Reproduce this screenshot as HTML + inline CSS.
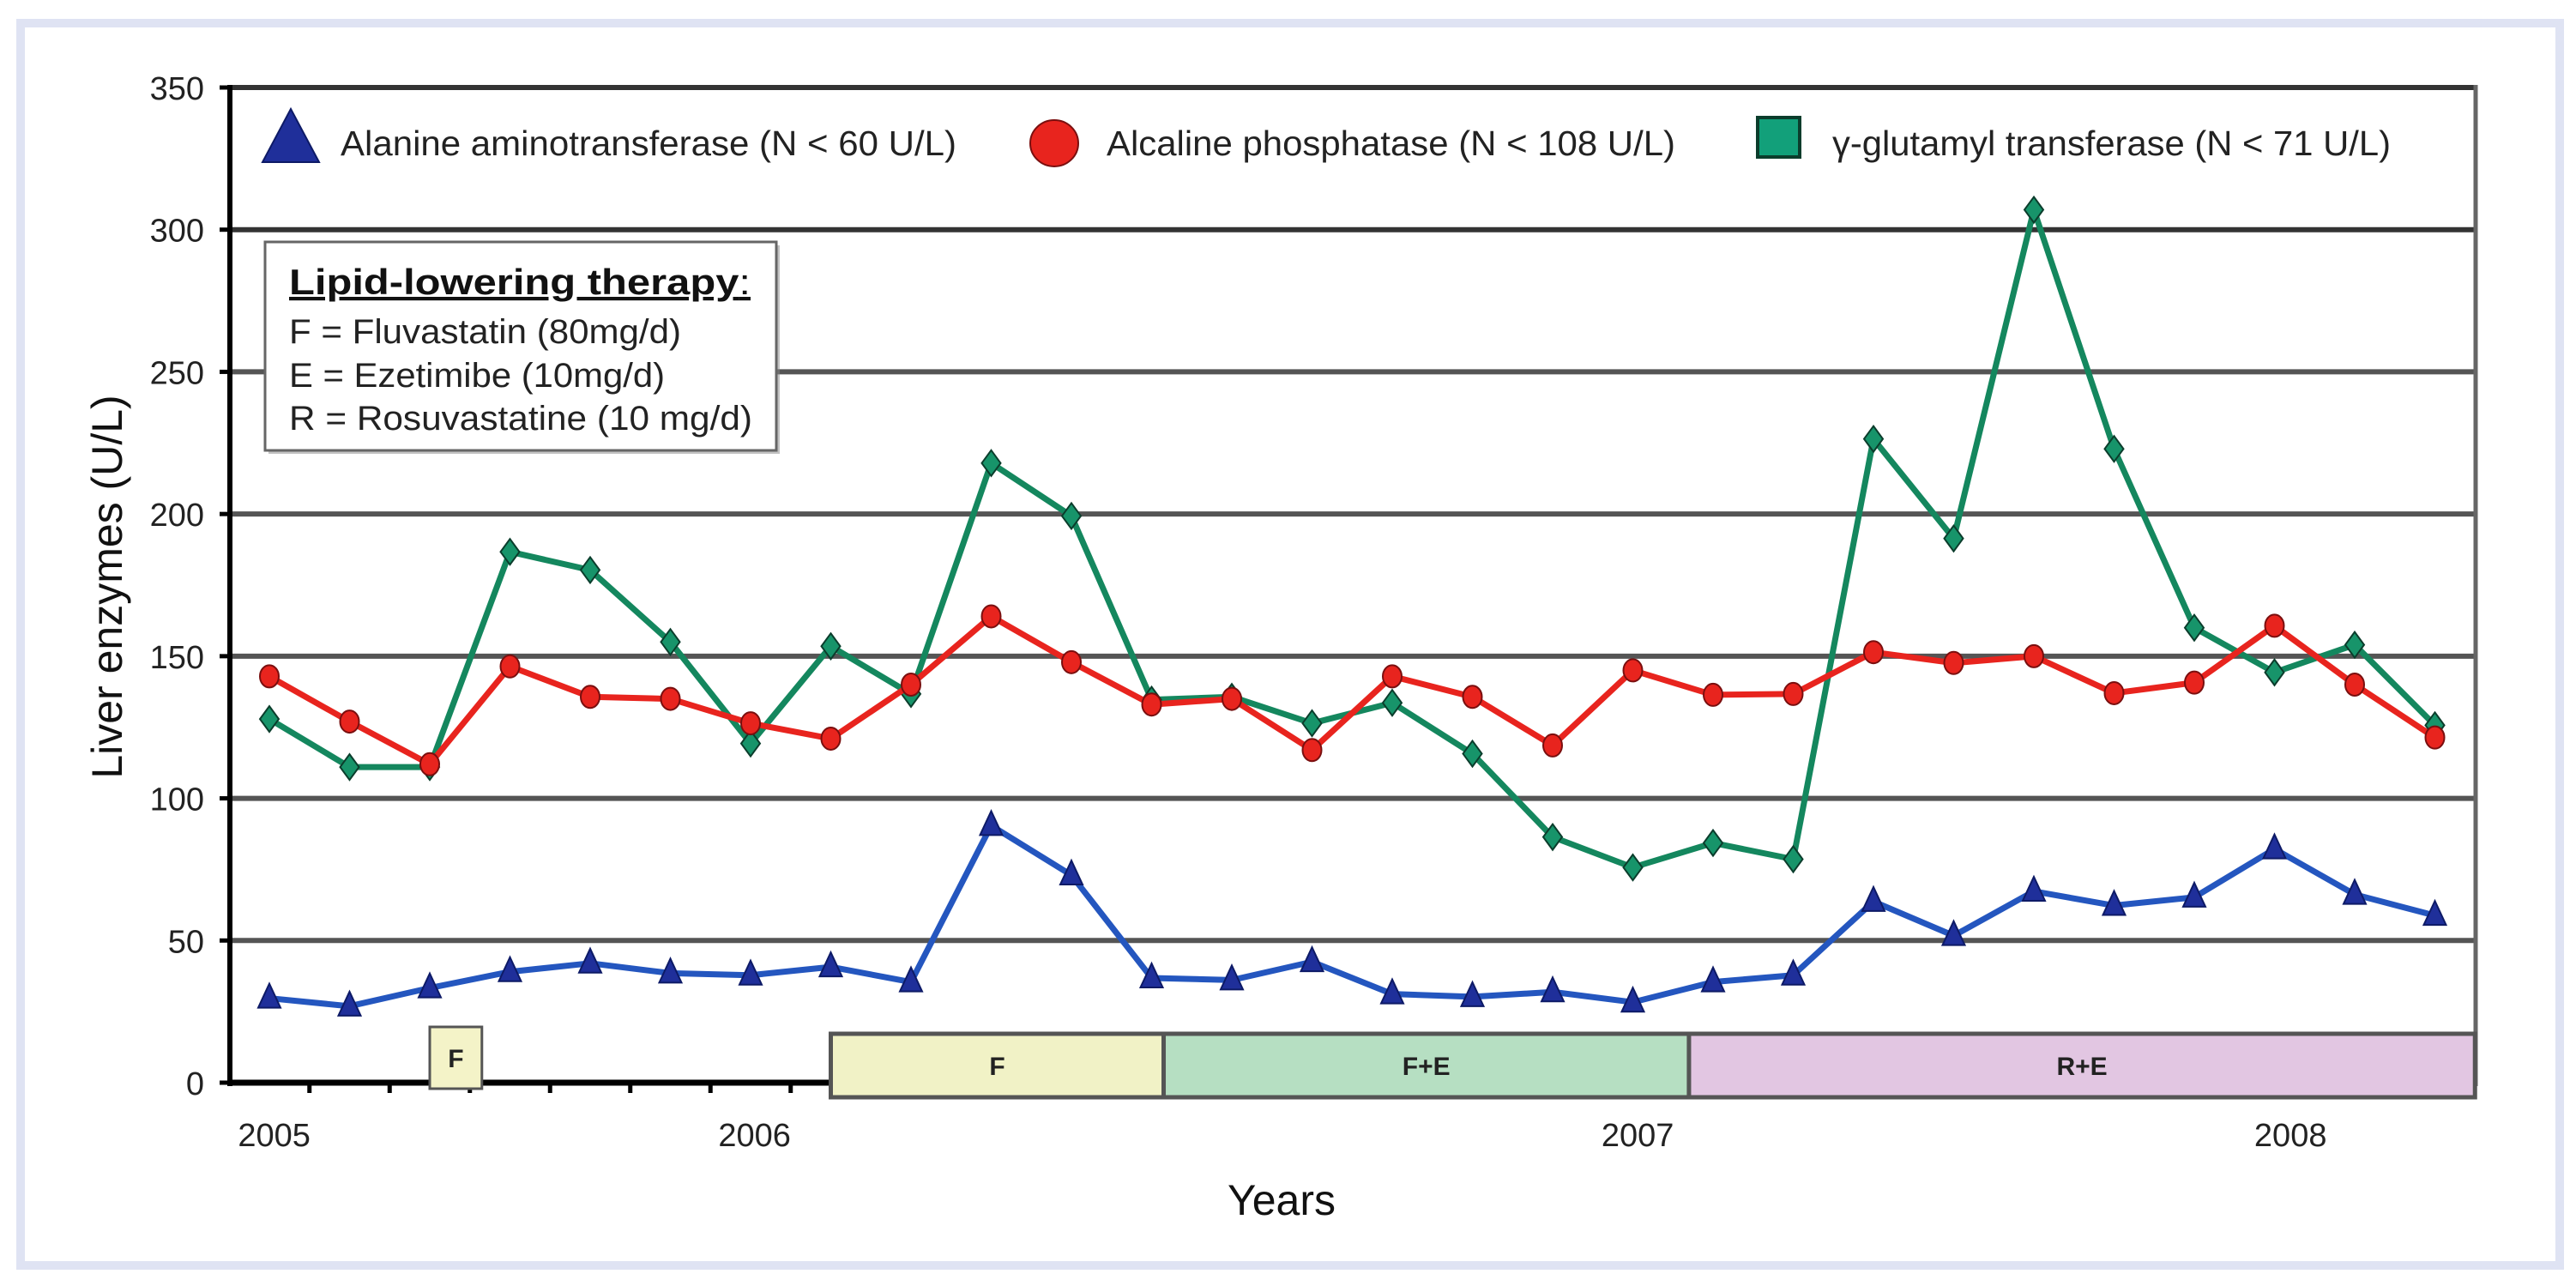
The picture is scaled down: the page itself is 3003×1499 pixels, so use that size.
<!DOCTYPE html>
<html><head><meta charset="utf-8"><style>
html,body{margin:0;padding:0;background:#fff;}
svg text{font-family:"Liberation Sans",Arial,sans-serif;}
</style></head><body>
<svg id="chart" width="3003" height="1494" viewBox="0 0 3003 1494" xmlns="http://www.w3.org/2000/svg">
<rect x="24" y="27" width="2960" height="1448" fill="#fff" stroke="#dfe3f3" stroke-width="10"/>
<g id="grid"></g>
<g id="axes"></g>
<g id="therapy"></g>
<g id="series"></g>
<g>
  <polygon points="339,127 306,189 372,189" fill="#1f2f9a" stroke="#0d1a66" stroke-width="2"/>
  <text x="397" y="181" font-size="41" textLength="718" lengthAdjust="spacingAndGlyphs" fill="#222">Alanine aminotransferase (N &lt; 60 U/L)</text>
  <ellipse cx="1229" cy="167" rx="28" ry="27" fill="#e8241e" stroke="#7a0f0f" stroke-width="2"/>
  <text x="1290" y="181" font-size="41" textLength="663" lengthAdjust="spacingAndGlyphs" fill="#222">Alcaline phosphatase (N &lt; 108 U/L)</text>
  <rect x="2049" y="137" width="49" height="46" fill="#12a07a" stroke="#0b3d2c" stroke-width="4"/>
  <text x="2136" y="181" font-size="41" textLength="651" lengthAdjust="spacingAndGlyphs" fill="#222">γ-glutamyl transferase (N &lt; 71 U/L)</text>
</g>
<g>
  <rect x="313" y="286" width="596" height="243" fill="#888" opacity="0.5"/>
  <rect x="309" y="282" width="596" height="243" fill="#fff" stroke="#666" stroke-width="3"/>
  <text x="337" y="343" font-size="42" font-weight="bold" text-decoration="underline" fill="#111" textLength="538" lengthAdjust="spacingAndGlyphs">Lipid-lowering therapy<tspan font-weight="normal" text-decoration="none">:</tspan></text>
  <text x="337" y="400" font-size="40" fill="#222" textLength="457" lengthAdjust="spacingAndGlyphs">F = Fluvastatin (80mg/d)</text>
  <text x="337" y="451" font-size="40" fill="#222" textLength="438" lengthAdjust="spacingAndGlyphs">E = Ezetimibe (10mg/d)</text>
  <text x="337" y="501" font-size="40" fill="#222" textLength="540" lengthAdjust="spacingAndGlyphs">R = Rosuvastatine (10 mg/d)</text>
</g>
<text transform="translate(142,684) rotate(-90)" text-anchor="middle" font-size="50" fill="#111">Liver enzymes (U/L)</text>
<text x="1494" y="1416" text-anchor="middle" font-size="50" fill="#111">Years</text>
</svg>
<script>
const altValues=[29.7,26.9,33.3,39,42,38.5,37.8,40.7,35.4,90.4,73,36.8,36.1,42.5,31.2,30.2,31.9,28.3,35.4,37.8,63.7,51.7,67.3,62.3,65.2,82.2,66.2,58.8];
const alpValues=[142.9,127,112,146.4,135.7,135,126.4,121,140,164,147.9,133,135,117,142.9,135.7,118.6,145,136.4,136.7,151.4,147.6,150,137,140.7,160.7,140,121.4];
const ggtValues=[127.9,111,111,186.7,180.3,155,119.3,153.5,136.7,217.9,199.3,134.7,135.7,126.4,133.6,115.7,86.4,75.7,84.3,78.6,226.4,191.4,307,222.9,160,144.3,154,125.7];
const yTicks=[0,50,100,150,200,250,300,350];
const yearLabels=["2005","2006","2007","2008"];
const yearPos=[0.06,6.05,17.06,25.2];
const therapyLabels=["F","F","F+E","R+E"];
const therapyStart=[2.0,7.0,11.15,17.7];
const therapyEnd=[2.65,11.15,17.7,27.5];
const therapyColors=["#f4f3c8","#f1f2c6","#b6dfc2","#e2c6e2"];

const NS="http://www.w3.org/2000/svg";
const X0=268,X1=2886,Y0=1262,Y350=102;
const xs=i=>314+i*93.5;
const ys=v=>Y0-(v/350)*(Y0-Y350);
function mk(tag,attrs,parent){const e=document.createElementNS(NS,tag);for(const k in attrs)e.setAttribute(k,attrs[k]);parent.appendChild(e);return e;}
const grid=document.getElementById('grid'),axes=document.getElementById('axes'),ser=document.getElementById('series'),ther=document.getElementById('therapy');

yTicks.forEach(t=>{
  if(t>0){const l=mk('line',{x1:X0,x2:X1,y1:ys(t),y2:ys(t),stroke:t>=300?'#333':'#555','stroke-width':6},grid);
  
  }
  const tk=mk('line',{x1:X0-12,x2:X0,y1:ys(t),y2:ys(t),stroke:'#000','stroke-width':5},axes);
  
  
  const tx=mk('text',{x:238,y:ys(t)+14,'text-anchor':'end','font-size':38,fill:'#222'},axes);
  tx.textContent=t;
  
  
});
const rb=mk('line',{x1:X1,x2:X1,y1:Y350-3,y2:Y0+4,stroke:'#666','stroke-width':5},grid);


const xa=mk('line',{x1:X0,x2:X1,y1:Y0,y2:Y0,stroke:'#000','stroke-width':7},axes);


const ya=mk('line',{x1:X0,x2:X0,y1:Y350-3,y2:Y0+4,stroke:'#000','stroke-width':6},axes);


for(let i=0;i<altValues.length-1;i++){
  const t=mk('line',{x1:xs(i+0.5),x2:xs(i+0.5),y1:Y0,y2:Y0+12,stroke:'#000','stroke-width':5},axes);
  
  
}
yearLabels.forEach((y,i)=>{
  const t=mk('text',{x:xs(yearPos[i]),y:1336,'text-anchor':'middle','font-size':38,fill:'#222'},axes);
  t.textContent=y;
  
  
});
therapyLabels.forEach((lab,i)=>{
  const small=i===0;
  const x1=xs(therapyStart[i]),x2=xs(therapyEnd[i]);
  const top=small?1197:1205,bot=small?1269:1279;
  const r=mk('rect',{x:x1,y:top,width:x2-x1,height:bot-top,fill:therapyColors[i],stroke:'#555','stroke-width':small?3:5},ther);
  
  
  const t=mk('text',{x:(x1+x2)/2,y:(top+bot)/2+11,'text-anchor':'middle','font-size':30,'font-weight':'bold',fill:'#222'},ther);
  t.textContent=lab;
  
  
});
function drawSeries(vals,color,mcolor,shape,name){
  const g=mk('g',{},ser);
  
  
  const pts=vals.map((v,i)=>xs(i)+','+ys(v)).join(' ');
  const pl=mk('polyline',{points:pts,fill:'none',stroke:color,'stroke-width':7,'stroke-linejoin':'round'},g);
  
  
  vals.forEach((v,i)=>{
    const x=xs(i),y=ys(v);let m;
    if(shape==='tri')m=mk('polygon',{points:`${x},${y-17} ${x-13},${y+11} ${x+13},${y+11}`,fill:mcolor,stroke:'#0d1a66','stroke-width':2},g);
    else if(shape==='circ')m=mk('ellipse',{cx:x,cy:y,rx:11,ry:13,fill:mcolor,stroke:'#7a0f0f','stroke-width':2},g);
    else m=mk('polygon',{points:`${x},${y-15} ${x+11},${y} ${x},${y+15} ${x-11},${y}`,fill:mcolor,stroke:'#0b3d2c','stroke-width':2},g);
    
    
  });
}
drawSeries(ggtValues,'#14875e','#17946a','dia','ggt');
drawSeries(alpValues,'#e8241e','#e8241e','circ','alp');
drawSeries(altValues,'#2456bf','#1f2f9a','tri','alt');
</script>
</body></html>
